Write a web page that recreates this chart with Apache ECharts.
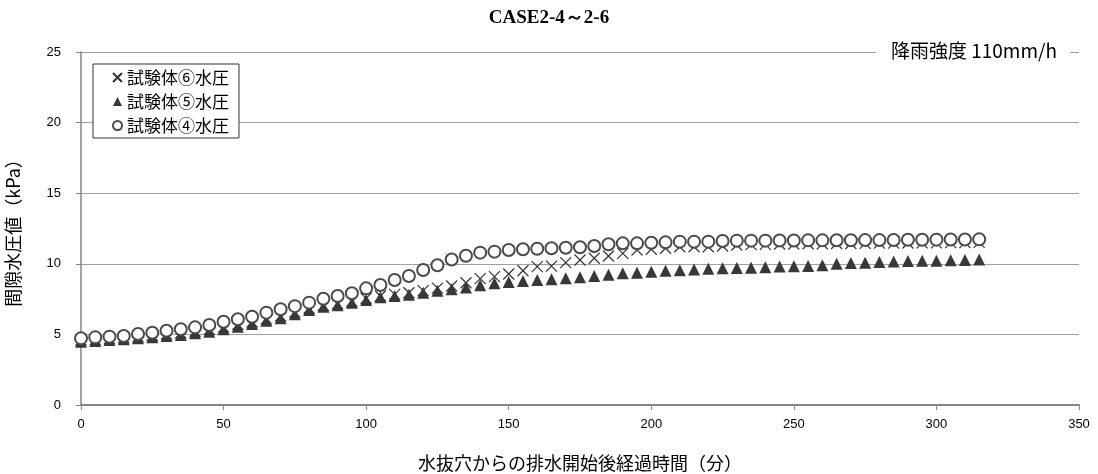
<!DOCTYPE html>
<html>
<head>
<meta charset="utf-8">
<script src="https://cdn.jsdelivr.net/npm/echarts@6/dist/echarts.min.js"></script>
<style>
  html, body { margin: 0; padding: 0; background: #fff; }
  #chart { width: 1098px; height: 474px; }
</style>
</head>
<body>
<div id="chart"></div>
<script>
// Elapsed time since drainage started (minutes), one reading every 5 minutes
const minutes = [
  0, 5, 10, 15, 20, 25, 30, 35, 40, 45, 50, 55, 60, 65, 70, 75,
  80, 85, 90, 95, 100, 105, 110, 115, 120, 125, 130, 135, 140, 145, 150, 155,
  160, 165, 170, 175, 180, 185, 190, 195, 200, 205, 210, 215, 220, 225, 230, 235,
  240, 245, 250, 255, 260, 265, 270, 275, 280, 285, 290, 295, 300, 305, 310, 315
];

// Pore water pressure (kPa) per specimen
const specimen6 = [
  4.60, 4.65, 4.70, 4.76, 4.84, 4.92, 5.02, 5.10, 5.22, 5.35, 5.52, 5.70, 5.88, 6.10, 6.30, 6.58,
  6.85, 7.05, 7.18, 7.35, 7.55, 7.72, 7.83, 7.95, 8.10, 8.28, 8.43, 8.66, 8.95, 9.09, 9.28, 9.51,
  9.80, 9.84, 10.08, 10.27, 10.39, 10.55, 10.74, 10.98, 11.03, 11.10, 11.21, 11.21, 11.21, 11.26, 11.33, 11.36,
  11.38, 11.40, 11.40, 11.42, 11.42, 11.44, 11.44, 11.45, 11.46, 11.46, 11.47, 11.48, 11.48, 11.50, 11.50, 11.52
];
const specimen5 = [
  4.48, 4.53, 4.60, 4.65, 4.72, 4.79, 4.89, 4.96, 5.08, 5.19, 5.36, 5.55, 5.74, 5.97, 6.14, 6.42,
  6.73, 6.96, 7.06, 7.25, 7.44, 7.63, 7.72, 7.81, 7.95, 8.10, 8.19, 8.33, 8.48, 8.62, 8.71, 8.78,
  8.85, 8.90, 8.97, 9.04, 9.14, 9.23, 9.33, 9.37, 9.44, 9.50, 9.55, 9.60, 9.65, 9.68, 9.70, 9.72,
  9.75, 9.80, 9.82, 9.85, 9.90, 10.00, 10.05, 10.08, 10.12, 10.17, 10.20, 10.22, 10.22, 10.25, 10.27, 10.30
];
const specimen4 = [
  4.72, 4.79, 4.84, 4.89, 5.03, 5.12, 5.26, 5.36, 5.50, 5.67, 5.90, 6.07, 6.25, 6.54, 6.78, 7.00,
  7.25, 7.53, 7.72, 7.91, 8.26, 8.50, 8.85, 9.14, 9.56, 9.90, 10.30, 10.57, 10.79, 10.86, 10.98, 11.03,
  11.07, 11.10, 11.14, 11.17, 11.26, 11.38, 11.45, 11.45, 11.49, 11.52, 11.57, 11.57, 11.57, 11.61, 11.64, 11.64,
  11.64, 11.65, 11.65, 11.66, 11.66, 11.67, 11.67, 11.68, 11.68, 11.69, 11.70, 11.70, 11.71, 11.72, 11.72, 11.73
];

const seriesNames = ['試験体⑥水圧', '試験体⑤水圧', '試験体④水圧'];
const chartTitle = 'CASE2-4～2-6';
const rainLabel = '降雨強度 110mm/h';
const xAxisName = '水抜穴からの排水開始後経過時間（分）';
const yAxisName = '間隙水圧値（kPa）';

const pairs = (ys) => minutes.map((t, i) => [t, ys[i]]);

const CJK = '"Noto Sans CJK JP", "Noto Sans", sans-serif';
const NUM = '"Liberation Sans Narrow", "Liberation Sans", "Noto Sans CJK JP", sans-serif';
const crossPath = 'path://M0,0L10,10M0,10L10,0';

const chart = echarts.init(document.getElementById('chart'), null, { renderer: 'canvas' });

chart.setOption({
  backgroundColor: '#ffffff',
  animation: false,
  title: {
    text: chartTitle,
    left: 'center',
    top: 4,
    textStyle: {
      fontFamily: '"Liberation Serif", "Times New Roman", serif',
      fontWeight: 'bold',
      fontSize: 19,
      color: '#000'
    }
  },
  legend: {
    orient: 'vertical',
    left: 93,
    top: 64,
    padding: [5, 10, 4, 19],
    itemWidth: 9,
    itemHeight: 9,
    itemGap: 7,
    backgroundColor: '#ffffff',
    borderColor: '#333',
    borderWidth: 1,
    textStyle: { fontFamily: CJK, fontSize: 17, color: '#000' },
    data: seriesNames
  },
  grid: { left: 81, right: 19, top: 52, bottom: 69, outerBoundsMode: 'none', containLabel: false },
  xAxis: {
    type: 'value',
    min: 0,
    max: 350,
    interval: 50,
    name: xAxisName,
    nameLocation: 'middle',
    nameGap: 49,
    nameTextStyle: { fontFamily: CJK, fontSize: 18, color: '#000' },
    axisLine: { lineStyle: { color: '#868686', width: 2 } },
    axisTick: { show: true, length: 5, lineStyle: { color: '#868686', width: 1 } },
    axisLabel: { margin: 13, fontFamily: NUM, fontSize: 13, color: '#000' },
    splitLine: { show: false }
  },
  yAxis: {
    type: 'value',
    min: 0,
    max: 25,
    interval: 5,
    name: yAxisName,
    nameLocation: 'middle',
    nameGap: 59,
    nameTextStyle: { fontFamily: CJK, fontSize: 18, color: '#000' },
    axisLine: { show: true, lineStyle: { color: '#868686', width: 1.5 } },
    axisTick: { show: true, length: 5, lineStyle: { color: '#868686', width: 1 } },
    axisLabel: { margin: 20, fontFamily: NUM, fontSize: 13, color: '#000' },
    splitLine: { show: true, lineStyle: { color: '#a0a0a0', width: 1 } }
  },
  series: [
    {
      name: seriesNames[0],
      type: 'scatter',
      data: pairs(specimen6),
      symbol: crossPath,
      symbolSize: 11,
      itemStyle: { color: 'rgba(0,0,0,0)', borderColor: '#333333', borderWidth: 1.2, opacity: 1 }
    },
    {
      name: seriesNames[1],
      type: 'scatter',
      data: pairs(specimen5),
      symbol: 'triangle',
      symbolSize: 12,
      itemStyle: { color: '#383838', opacity: 1 }
    },
    {
      name: seriesNames[2],
      type: 'scatter',
      data: pairs(specimen4),
      symbol: 'emptyCircle',
      symbolSize: 12,
      itemStyle: { color: '#4a4a4a', borderColor: '#4a4a4a', borderWidth: 1.1, opacity: 1 }
    }
  ],
  graphic: [
    {
      type: 'text',
      right: 28,
      top: 40,
      z: 100,
      style: {
        text: rainLabel,
        fontFamily: CJK,
        fontSize: 19,
        fill: '#000',
        backgroundColor: '#ffffff',
        padding: [1, 13, 1, 15]
      }
    }
  ]
});
</script>
</body>
</html>
